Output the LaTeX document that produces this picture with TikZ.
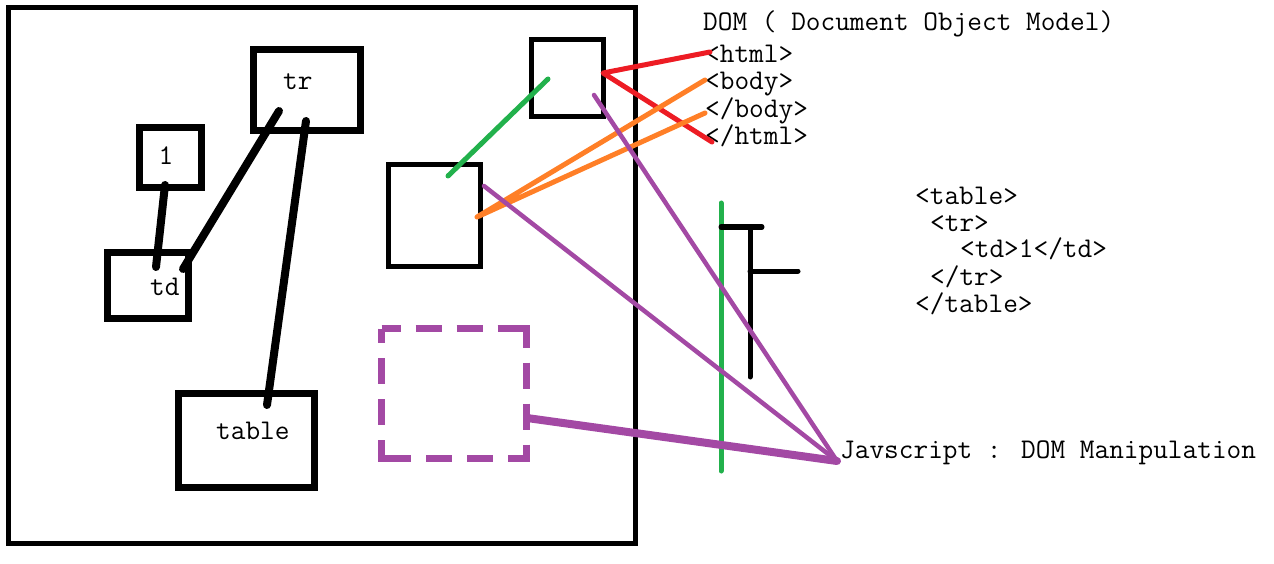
\documentclass[tikz,border=0pt]{standalone}
\definecolor{pred}{HTML}{ED1C24}
\definecolor{porange}{HTML}{FF7F27}
\definecolor{pgreen}{HTML}{22B14C}
\definecolor{ppurple}{HTML}{A349A4}
\begin{document}
\begin{tikzpicture}[x=1pt,y=-1pt,
  box/.style={draw=black,line width=7pt,inner sep=0pt,outer sep=0pt},
  thinbox/.style={draw=black,line width=5pt,inner sep=0pt,outer sep=0pt},
  dashframe/.style={draw=ppurple,line width=7pt,line join=miter,
    dash pattern=on 19pt off 15pt on 26pt off 15pt on 26pt off 15pt on 48pt off 15pt on 26pt off 15pt on 26pt off 15pt on 33pt off 15pt on 26pt off 15pt on 26pt off 15pt on 48pt off 15pt on 26pt off 15pt on 26pt off 15pt on 14pt off 0pt},
  lbl/.style={font=\fontsize{28.5}{30}\selectfont\ttfamily,inner sep=0pt,anchor=base west},
  stroke/.style={line cap=round,line join=round},
  blk/.style={stroke,draw=black,line width=8pt},
  tee/.style={stroke,draw=black,line width=5pt},
  redl/.style={stroke,draw=pred,line width=5pt},
  orl/.style={stroke,draw=porange,line width=5pt},
  grl/.style={stroke,draw=pgreen,line width=5pt},
  pul/.style={stroke,draw=ppurple,line width=4.5pt},
  pulthick/.style={stroke,draw=ppurple,line width=8pt},
]
\useasboundingbox (0,0) rectangle (1274,564);
% main frame
\node[thinbox,minimum width=626.5pt,minimum height=535pt] (page) at (321.75,275.5) {};
% boxes
\node[box,minimum width=107pt,minimum height=81pt] (trbox) at (306.5,90.5) {};
\node[box,minimum width=62pt,minimum height=60pt] (onebox) at (170.5,157.5) {};
\node[box,minimum width=81pt,minimum height=66pt] (tdbox) at (148,285.5) {};
\node[box,minimum width=136pt,minimum height=94pt] (tablebox) at (246,440) {};
\node[thinbox,minimum width=72pt,minimum height=77pt] (htmlbox) at (567.5,78) {};
\node[thinbox,minimum width=92pt,minimum height=102pt] (bodybox) at (434.5,215.5) {};
\node[inner sep=0pt,outer sep=0pt,minimum width=145pt,minimum height=130pt] (dashed) at (454,393.5) {};
\draw[dashframe] (dashed.north west) -- (dashed.north east) -- (dashed.south east) -- (dashed.south west) -- cycle;
% box labels
\node[lbl] (trlbl) at (283,90) {tr};
\node[lbl,anchor=base] (onelbl) at (166,165) {1};
\node[lbl] (tdlbl) at (150,295) {td};
\node[lbl] (tablelbl) at (216,439) {table};
% right texts
\node[lbl] (title) at (703,31) {DOM ( Document Object Model)};
\node[lbl] (t1) at (705,63) {<html>};
\node[lbl] (t2) at (705,90) {<body>};
\node[lbl] (t3) at (705,118) {</body>};
\node[lbl] (t4) at (705,145) {</html>};
\node[lbl] (c1) at (915,205) {<table>};
\node[lbl] (c2) at (930,232) {<tr>};
\node[lbl] (c3) at (960,258) {<td>1</td>};
\node[lbl] (c4) at (930,285) {</tr>};
\node[lbl] (c5) at (915,312) {</table>};
\node[lbl] (js) at (840,458) {Javscript : DOM Manipulation};
% connector end points
\coordinate (oneA) at (165,185);
\coordinate (tdA) at (156,267);
\coordinate (trA) at (279,111);
\coordinate (tdB) at (183,269);
\coordinate (trB) at (306,121);
\coordinate (tableA) at (267,405);
\coordinate (grA) at (448,176);
\coordinate (grB) at (548,79);
\coordinate (redS) at (603,73);
\coordinate (redA) at (710,52);
\coordinate (redB) at (712,142);
\coordinate (orS) at (477,217);
\coordinate (orA) at (705,80);
\coordinate (orB) at (705,113);
\coordinate (puA) at (484,186);
\coordinate (puB) at (594,95);
\coordinate (puC) at (527,418);
\coordinate (jsTip) at (837,461);
\coordinate (gvA) at (721,203);
\coordinate (gvB) at (721,471);
\coordinate (teeL) at (721,227);
\coordinate (teeR) at (762,227);
\coordinate (teeT) at (750,227);
\coordinate (teeB) at (750,377);
\coordinate (teeM) at (750,271);
\coordinate (teeMR) at (798,271);
% black connectors
\draw[blk] (oneA) -- (tdA);
\draw[blk] (trA) -- (tdB);
\draw[blk] (trB) -- (tableA);
% coloured strokes
\draw[grl] (grA) -- (grB);
\draw[redl] (redA) -- (redS) -- (redB);
\draw[orl] (orA) -- (orS) -- (orB);
\draw[grl] (gvA) -- (gvB);
\draw[tee] (teeL) -- (teeR);
\draw[tee] (teeT) -- (teeB);
\draw[tee] (teeM) -- (teeMR);
\draw[pul] (puA) -- (jsTip);
\draw[pul] (puB) -- (jsTip);
\draw[pulthick] (puC) -- (jsTip);
\end{tikzpicture}
\end{document}
